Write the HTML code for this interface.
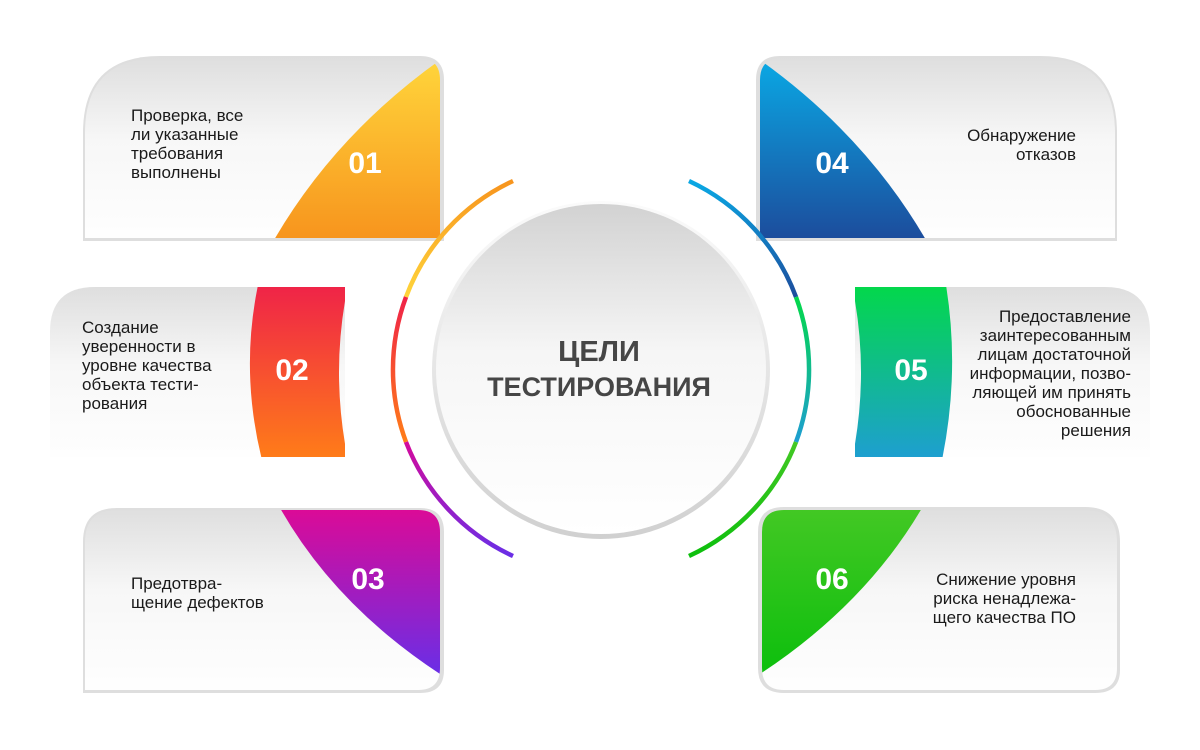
<!DOCTYPE html>
<html><head><meta charset="utf-8"><style>
body{margin:0;background:#fff;}
svg{display:block}
.t{font-family:"Liberation Sans",sans-serif;font-size:17px;fill:#1a1a1a}
.n{font-family:"Liberation Sans",sans-serif;font-size:30px;font-weight:bold;fill:#fff}
</style></head><body>
<svg width="1200" height="750" viewBox="0 0 1200 750" xmlns="http://www.w3.org/2000/svg">
<defs>
<linearGradient id="card" x1="0" y1="0" x2="0" y2="1"><stop offset="0" stop-color="#dcdcdc"/><stop offset="0.45" stop-color="#f7f7f7"/><stop offset="1" stop-color="#ffffff"/></linearGradient>
<linearGradient id="g1" x1="0" y1="0" x2="0" y2="1"><stop offset="0" stop-color="#ffd53b"/><stop offset="1" stop-color="#f7941d"/></linearGradient>
<linearGradient id="g2" x1="0" y1="0" x2="0" y2="1"><stop offset="0" stop-color="#ef2348"/><stop offset="1" stop-color="#ff7d18"/></linearGradient>
<linearGradient id="g3" x1="0" y1="0" x2="0" y2="1"><stop offset="0" stop-color="#dc0a96"/><stop offset="1" stop-color="#6a2ee6"/></linearGradient>
<linearGradient id="g4" x1="0" y1="0" x2="0" y2="1"><stop offset="0" stop-color="#0aa8e4"/><stop offset="1" stop-color="#1c4c9c"/></linearGradient>
<linearGradient id="g5" x1="0" y1="0" x2="0" y2="1"><stop offset="0" stop-color="#03d84a"/><stop offset="1" stop-color="#1e9ed2"/></linearGradient>
<linearGradient id="g6" x1="0" y1="0" x2="0" y2="1"><stop offset="0" stop-color="#43c824"/><stop offset="1" stop-color="#0dbf0d"/></linearGradient>
<linearGradient id="circ" x1="0" y1="0" x2="0" y2="1"><stop offset="0" stop-color="#d2d2d2"/><stop offset="0.45" stop-color="#f6f6f6"/><stop offset="1" stop-color="#ffffff"/></linearGradient>
<linearGradient id="rim" x1="0" y1="0" x2="0" y2="1"><stop offset="0" stop-color="#fbfbfb"/><stop offset="1" stop-color="#d0d0d0"/></linearGradient>
<linearGradient id="aL1" x1="0" y1="0" x2="0" y2="1"><stop offset="0" stop-color="#f7941d"/><stop offset="1" stop-color="#ffd53b"/></linearGradient>
<linearGradient id="aL2" x1="0" y1="0" x2="0" y2="1"><stop offset="0" stop-color="#ef2348"/><stop offset="1" stop-color="#ff7d18"/></linearGradient>
<linearGradient id="aL3" x1="0" y1="0" x2="0" y2="1"><stop offset="0" stop-color="#d40a9c"/><stop offset="1" stop-color="#6a2ee6"/></linearGradient>
<linearGradient id="aR1" x1="0" y1="0" x2="0" y2="1"><stop offset="0" stop-color="#0aa8e4"/><stop offset="1" stop-color="#1c4c9c"/></linearGradient>
<linearGradient id="aR2" x1="0" y1="0" x2="0" y2="1"><stop offset="0" stop-color="#03d84a"/><stop offset="1" stop-color="#1e9ed2"/></linearGradient>
<linearGradient id="aR3" x1="0" y1="0" x2="0" y2="1"><stop offset="0" stop-color="#43c824"/><stop offset="1" stop-color="#0dbf0d"/></linearGradient>
<clipPath id="c1"><path d="M160,58 H418 Q440,58 440,80 V238 H85 V133 Q85,58 160,58Z"/></clipPath>
<clipPath id="c2"><path d="M95,287 H345 V457 H50 V332 Q50,287 95,287Z"/></clipPath>
<clipPath id="c3"><path d="M117,510 H418 Q440,510 440,532 V668 Q440,690 418,690 H85 V542 Q85,510 117,510Z"/></clipPath>
<clipPath id="c4"><path d="M782,58 H1040 Q1115,58 1115,133 V238 H760 V80 Q760,58 782,58Z"/></clipPath>
<clipPath id="c5"><path d="M855,287 H1105 Q1150,287 1150,332 V457 H855Z"/></clipPath>
<clipPath id="c6"><path d="M784,510 H1085 Q1117,510 1117,542 V668 Q1117,690 1095,690 H784 Q762,690 762,668 V532 Q762,510 784,510Z"/></clipPath>
</defs>

<!-- card 1 -->
<path d="M160,56 H420 Q444,56 444,80 V241 H83 V133 Q83,56 160,56Z" fill="#dedede"/>
<g clip-path="url(#c1)">
<rect x="80" y="50" width="370" height="200" fill="url(#card)"/>
<path d="M274,240 Q335,135 440,60 V240Z" fill="url(#g1)"/>
</g>
<text class="t"><tspan x="131" y="121">Проверка, все</tspan><tspan x="131" y="140">ли указанные</tspan><tspan x="131" y="159">требования</tspan><tspan x="131" y="178">выполнены</tspan></text>
<text class="n" x="365" y="173" text-anchor="middle">01</text>

<!-- card 2 -->
<g clip-path="url(#c2)">
<rect x="40" y="280" width="320" height="190" fill="url(#card)"/>
<path d="M258,285 Q240,372 262,460 H348 Q330,372 348,285Z" fill="url(#g2)"/>
</g>
<text class="t"><tspan x="82" y="333">Создание</tspan><tspan x="82" y="352">уверенности в</tspan><tspan x="82" y="371">уровне качества</tspan><tspan x="82" y="390">объекта тести-</tspan><tspan x="82" y="409">рования</tspan></text>
<text class="n" x="292" y="380" text-anchor="middle">02</text>

<!-- card 3 -->
<path d="M117,508 H420 Q444,508 444,532 V670 Q444,693 420,693 H83 V542 Q83,508 117,508Z" fill="#dedede"/>
<g clip-path="url(#c3)">
<rect x="80" y="500" width="370" height="200" fill="url(#card)"/>
<path d="M280,508 Q335,605 440,674 V508Z" fill="url(#g3)"/>
</g>
<text class="t"><tspan x="131" y="589">Предотвра-</tspan><tspan x="131" y="608">щение дефектов</tspan></text>
<text class="n" x="368" y="589" text-anchor="middle">03</text>

<!-- card 4 -->
<path d="M780,56 H1040 Q1117,56 1117,133 V241 H756 V80 Q756,56 780,56Z" fill="#dedede"/>
<g clip-path="url(#c4)">
<rect x="750" y="50" width="370" height="200" fill="url(#card)"/>
<path d="M926,240 Q865,135 760,60 V240Z" fill="url(#g4)"/>
</g>
<text class="t" text-anchor="end"><tspan x="1076" y="141">Обнаружение</tspan><tspan x="1076" y="160">отказов</tspan></text>
<text class="n" x="832" y="173" text-anchor="middle">04</text>

<!-- card 5 -->
<g clip-path="url(#c5)">
<rect x="845" y="280" width="320" height="190" fill="url(#card)"/>
<path d="M852,285 Q870,372 852,460 H942 Q960,372 946,285Z" fill="url(#g5)"/>
</g>
<text class="t" text-anchor="end"><tspan x="1131" y="322">Предоставление</tspan><tspan x="1131" y="341">заинтересованным</tspan><tspan x="1131" y="360">лицам достаточной</tspan><tspan x="1131" y="379">информации, позво-</tspan><tspan x="1131" y="398">ляющей им принять</tspan><tspan x="1131" y="417">обоснованные</tspan><tspan x="1131" y="436">решения</tspan></text>
<text class="n" x="911" y="380" text-anchor="middle">05</text>

<!-- card 6 -->
<path d="M784,507 H1085 Q1120,507 1120,542 V670 Q1120,693 1095,693 H784 Q758,693 758,668 V532 Q758,507 784,507Z" fill="#dedede"/>
<g clip-path="url(#c6)">
<rect x="750" y="500" width="380" height="200" fill="url(#card)"/>
<path d="M922,508 Q865,605 760,674 V508Z" fill="url(#g6)"/>
</g>
<text class="t" text-anchor="end"><tspan x="1076" y="585">Снижение уровня</tspan><tspan x="1076" y="604">риска ненадлежа-</tspan><tspan x="1076" y="623">щего качества ПО</tspan></text>
<text class="n" x="832" y="589" text-anchor="middle">06</text>

<!-- ring arcs -->
<g fill="none" stroke-width="4.5">
<path d="M513,181 A208,208 0 0 0 406,297" stroke="url(#aL1)"/>
<path d="M406,297 A208,208 0 0 0 406,442" stroke="url(#aL2)"/>
<path d="M406,442 A208,208 0 0 0 513,556" stroke="url(#aL3)"/>
<path d="M689,181 A208,208 0 0 1 796,297" stroke="url(#aR1)"/>
<path d="M796,297 A208,208 0 0 1 796,442" stroke="url(#aR2)"/>
<path d="M796,442 A208,208 0 0 1 689,556" stroke="url(#aR3)"/>
</g>

<!-- center circle -->
<circle cx="601" cy="370" r="169" fill="url(#rim)"/>
<circle cx="601" cy="369" r="165" fill="url(#circ)"/>
<text x="599" y="361" text-anchor="middle" font-family="Liberation Sans, sans-serif" font-weight="bold" font-size="29" fill="#464646">ЦЕЛИ</text>
<text x="599" y="396" text-anchor="middle" font-family="Liberation Sans, sans-serif" font-weight="bold" font-size="27" fill="#464646">ТЕСТИРОВАНИЯ</text>
</svg>
</body></html>
